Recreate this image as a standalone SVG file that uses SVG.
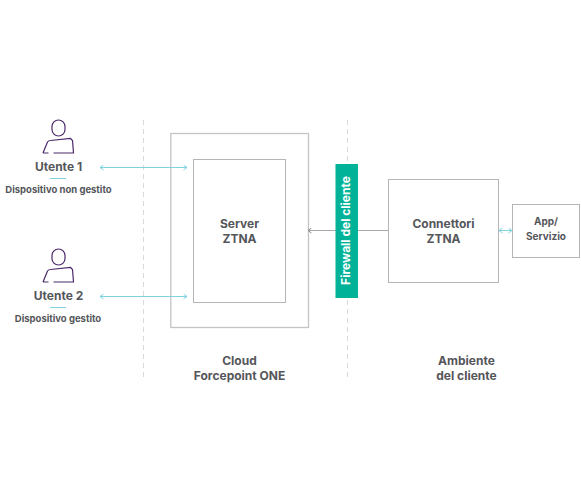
<svg xmlns="http://www.w3.org/2000/svg" width="581" height="501" viewBox="0 0 581 501">
<defs>
<style>
text{font-family:"Inter","Liberation Sans",sans-serif;font-weight:700;fill:#54565a;text-anchor:middle}
.big{font-size:12px}
.small{font-size:9.500px}
.app{font-size:10px}
.box{fill:#fff;stroke:#b5b5b5;stroke-width:1}
.outer{fill:#fff;stroke:#c4c4c4;stroke-width:1.300}
.dash{stroke:#d9d9d9;stroke-width:1;stroke-dasharray:5 4;fill:none}
.teal{stroke:#7fd3de;stroke-width:1;fill:none}
.person{fill:none;stroke:#4a2a6a;stroke-width:1.200}
</style>
<marker id="a" markerUnits="userSpaceOnUse" markerWidth="6" markerHeight="6" refX="4" refY="3" orient="auto-start-reverse"><path d="M0.500 0.500L4 3L0.500 5.500" fill="none" stroke="#7fd3de"/></marker>
<marker id="g" markerUnits="userSpaceOnUse" markerWidth="6" markerHeight="6" refX="4" refY="3" orient="auto-start-reverse"><path d="M0.500 0.500L4 3L0.500 5.500" fill="none" stroke="#8a8a8a"/></marker>
<g id="p"><rect x="-6.500" y="-24" width="13" height="16" rx="6.500" class="person"/><path d="M-15.500 9L-11 -2Q-10 -3.500 -8 -3.500L12 -5.500L14 -3.500L15 9H-5M-10 9H-15.500" class="person"/></g>
</defs>
<rect width="581" height="501" fill="#fff"/>
<g id="dividers">
<path d="M143.500 120V380" class="dash"/>
<path d="M347.500 120V380" class="dash"/>
</g>
<g id="cloud"><rect x="170.800" y="133.500" width="137.700" height="194" class="outer"/></g>
<g id="server"><rect x="193.500" y="159.500" width="92" height="143" class="box"/><text class="big" x="239.500" y="228">Server</text><text class="big" x="239.500" y="243">ZTNA</text></g>
<g id="connectors">
<path d="M100 167.500H187" class="teal" marker-start="url(#a)" marker-end="url(#a)"/>
<path d="M100 296.500H187" class="teal" marker-start="url(#a)" marker-end="url(#a)"/>
<path d="M388 230.500H308" stroke="#a8a8a8" fill="none" marker-end="url(#g)"/>
<path d="M499 230.500H512" class="teal" marker-start="url(#a)" marker-end="url(#a)"/>
</g>
<g id="utente1"><use href="#p" x="58.500" y="144"/><text class="big" x="58.500" y="171">Utente 1</text><path d="M50 178.500H66" class="teal"/><text class="small" x="58.500" y="193">Dispositivo non gestito</text></g>
<g id="utente2"><use href="#p" x="58.500" y="273"/><text class="big" x="58.500" y="300">Utente 2</text><path d="M50 307.500H66" class="teal"/><text class="small" x="58" y="322">Dispositivo gestito</text></g>
<g id="firewall"><rect x="335.500" y="164" width="22.500" height="134" fill="#00b398"/><text class="big" transform="translate(350,230.500) rotate(-90)" style="fill:#fff">Firewall del cliente</text></g>
<g id="connettori"><rect x="388.500" y="179.500" width="110" height="103" class="box"/><text class="big" x="443.500" y="228">Connettori</text><text class="big" x="443.500" y="243">ZTNA</text></g>
<g id="app"><rect x="512.500" y="204.500" width="67" height="53" class="box"/><text class="app" x="546" y="225">App/</text><text class="app" x="546" y="240">Servizio</text></g>
<g id="labels">
<text class="big" x="239.500" y="365">Cloud</text><text class="big" x="239.500" y="380">Forcepoint ONE</text>
<text class="big" x="466.500" y="365">Ambiente</text><text class="big" x="466.500" y="380">del cliente</text>
</g>
</svg>
